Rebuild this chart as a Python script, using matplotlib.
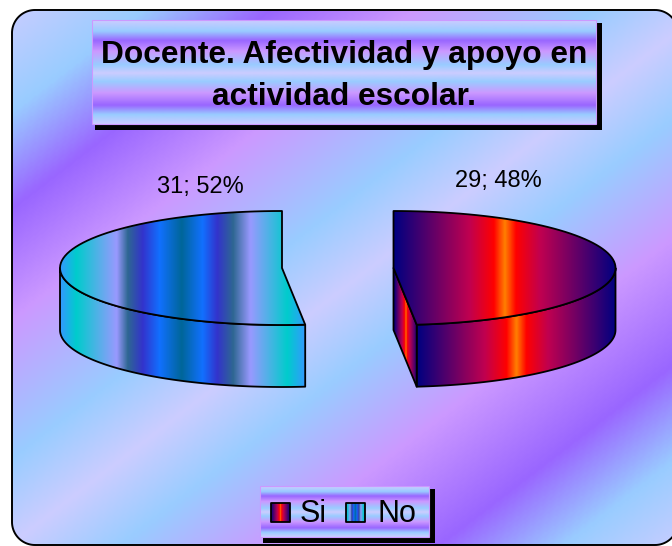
import numpy as np
import matplotlib
matplotlib.use('Agg')
import matplotlib.pyplot as plt
from matplotlib.colors import LinearSegmentedColormap
from matplotlib.patches import Polygon, Rectangle

plt.rcParams['font.family'] = ['Liberation Sans', 'DejaVu Sans']

title_lines = ['Docente. Afectividad y apoyo en', 'actividad escolar.']
categories = ['Si', 'No']
values = [29, 31]

backdrop = LinearSegmentedColormap.from_list('backdrop', [
    (0.00, '#CCCCFF'), (0.105, '#99CCFF'), (0.195, '#9966FF'), (0.30, '#CC99FF'),
    (0.43, '#99CCFF'), (0.51, '#CCCCFF'), (0.59, '#99CCFF'), (0.70, '#CC99FF'),
    (0.82, '#9966FF'), (0.91, '#99CCFF'), (1.00, '#CCCCFF')])
fire = LinearSegmentedColormap.from_list('fire3d', [
    (0.00, '#000080'), (0.34, '#C00050'), (0.45, '#FF0000'), (0.50, '#FF8000'),
    (0.55, '#FF0000'), (0.66, '#C00050'), (1.00, '#000080')])
peacock = LinearSegmentedColormap.from_list('peacock', [
    (0.00, '#3399FF'), (0.065, '#00CCCC'), (0.23, '#9999FF'), (0.275, '#2E6792'),
    (0.336, '#3333CC'), (0.405, '#1170FF'), (0.495, '#006699'), (0.58, '#1170FF'),
    (0.64, '#3333CC'), (0.705, '#2E6792'), (0.775, '#9999FF'), (0.926, '#00CCCC'),
    (1.00, '#3399FF')])
slice_maps = [fire, peacock]
slice_centers = [(393.5, 268), (282, 268)]
rx, ry, depth = 222, 57, 62


def fill_gradient(ax, patch, cmap, extent, data):
    im = ax.imshow(data, cmap=cmap, vmin=0, vmax=1, extent=extent, aspect='auto',
                   interpolation='bilinear', zorder=patch.get_zorder())
    ax.add_patch(patch)
    im.set_clip_path(patch)


def horizontal_fill(ax, pts, cmap, zorder):
    pts = np.array(pts)
    poly = Polygon(pts, closed=True, facecolor='none', edgecolor='k', lw=1.3,
                   joinstyle='round', zorder=zorder)
    x0, x1 = pts[:, 0].min(), pts[:, 0].max()
    y0, y1 = pts[:, 1].min(), pts[:, 1].max()
    fill_gradient(ax, poly, cmap, (x0, x1, y1, y0), np.linspace(0, 1, 256).reshape(1, -1))


def rim(cx, cy, start, stop):
    th = np.radians(np.linspace(start, stop, 80))
    return np.column_stack([cx + rx * np.sin(th), cy - ry * np.cos(th)])


def draw_slice(ax, cx, cy, start, stop, cmap):
    # wall goes first so that the top face sits over it
    front_a, front_b = max(start, 90), min(stop, 270)
    if front_b > front_a:
        edge = rim(cx, cy, front_a, front_b)
        horizontal_fill(ax, np.vstack([edge, edge[::-1] + [0, depth]]), cmap, 3)
    # the cut face only shows when it looks towards the viewer
    if 90 < stop < 180:
        end = rim(cx, cy, stop, stop)[0]
        face = [(cx, cy), end, end + [0, depth], (cx, cy + depth)]
        horizontal_fill(ax, face, cmap, 3)
    top = np.vstack([[(cx, cy)], rim(cx, cy, start, stop)])
    horizontal_fill(ax, top, cmap, 4)


def rounded_outline(x0, y0, x1, y1, r):
    corners = [(x1 - r, y0 + r, -90), (x1 - r, y1 - r, 0), (x0 + r, y1 - r, 90), (x0 + r, y0 + r, 180)]
    pts = []
    for cx, cy, a in corners:
        th = np.radians(np.linspace(a, a + 90, 24))
        pts.append(np.column_stack([cx + r * np.cos(th), cy + r * np.sin(th)]))
    return np.vstack(pts)


def boxed_panel(ax, x0, y0, x1, y1):
    ax.add_patch(Rectangle((x0 + 3, y0 + 3), x1 - x0 + 3, y1 - y0 + 3,
                           facecolor='k', edgecolor='none', zorder=5))
    frame = Rectangle((x0, y0), x1 - x0, y1 - y0, facecolor='none', edgecolor='#CC99FF',
                      lw=0.8, zorder=6)
    fill_gradient(ax, frame, backdrop, (x0, x1, y1, y0), np.linspace(0, 1, 256).reshape(-1, 1))


fig = plt.figure(figsize=(6.72, 5.46), dpi=100, facecolor='white')
ax = fig.add_axes([0, 0, 1, 1])

# chart area with rounded corners, runs off the right side of the picture
area = Polygon(rounded_outline(12, 10, 678, 545, 23), closed=True, facecolor='none',
               edgecolor='k', lw=1.4, zorder=2)
xx, yy = np.meshgrid(np.linspace(0, 672, 336), np.linspace(0, 546, 273))
t = (0.77 * xx + yy - 5) / 1075
fill_gradient(ax, area, backdrop, (0, 672, 546, 0), np.clip(t, 0, 1))

# pie, clockwise from 12 o'clock
total = sum(values)
start = 0.0
for val, cmap, (cx, cy) in zip(values, slice_maps, slice_centers):
    stop = start + 360.0 * val / total
    draw_slice(ax, cx, cy, start, stop, cmap)
    start = stop

label_pos = [(498, 181), (200, 187)]
for val, (lx, ly) in zip(values, label_pos):
    ax.text(lx, ly, '%d; %d%%' % (val, round(100 * val / total)), fontsize=17,
            ha='center', va='center', color='k', zorder=7)

# title box
boxed_panel(ax, 92, 20, 596, 124)
ax.text(344, 63, title_lines[0], fontsize=22.8, fontweight='bold', ha='center',
        va='baseline', color='k', zorder=7)
ax.text(344, 105, title_lines[1], fontsize=22.8, fontweight='bold', ha='center',
        va='baseline', color='k', zorder=7)

# legend box
boxed_panel(ax, 260, 486, 429, 537)
swatch_x = [271, 346]
legend_text_x = [300, 377]
for name, cmap, sx, tx in zip(categories, slice_maps, swatch_x, legend_text_x):
    horizontal_fill(ax, [(sx, 503), (sx + 19, 503), (sx + 19, 522), (sx, 522)], cmap, 7)
    ax.text(tx, 522, name, fontsize=22, ha='left', va='baseline', color='k', zorder=7)

ax.set_xlim(0, 672)
ax.set_ylim(546, 0)
ax.axis('off')
fig.savefig('out.png', dpi=100, facecolor='white')
